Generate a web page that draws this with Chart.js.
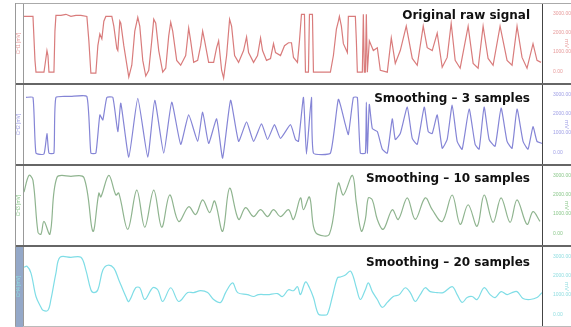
<!DOCTYPE html>
<html>
<head>
<meta charset="utf-8">
<script src="https://cdn.jsdelivr.net/npm/chart.js@4/dist/chart.umd.min.js"></script>
<style>
  html, body { margin: 0; padding: 0; background: #fff; }
  body { width: 571px; height: 327px; position: relative; overflow: hidden; }
  #wrap { position: absolute; left: 15px; top: 3px; width: 556px; height: 324px; border-left: 1px solid #999; border-bottom: 1px solid #bbb; box-sizing: border-box; }
  .panel { position: absolute; left: 0; width: 555px; }
  .panel canvas { position: absolute; left: 0; top: 0; }
  .strip { position: absolute; left: 0; top: 0; width: 7px; height: 100%; background: #94a8c8; }
  .ptitle { position: absolute; right: 41px; font: bold 12px "DejaVu Sans", sans-serif; color: #111; line-height: 14px; white-space: nowrap; }
</style>
</head>
<body>
<div id="wrap"></div>
<script>
// time axis in seconds, values in mV
const rawTime = [0.1, 1.0, 1.2, 1.3, 2.1, 2.2, 2.4, 2.5, 2.6, 3.1, 3.2, 3.3, 3.8, 4.3, 4.8, 5.3, 5.8, 6.4, 6.6, 6.8,
  7.3, 7.5, 7.7, 7.9, 8.1, 8.3, 8.9, 9.1, 9.4, 9.5, 9.7, 9.8, 10.1, 10.6, 10.9, 11.2, 11.5, 11.7, 12.0, 12.3,
  12.6, 12.9, 13.1, 13.3, 13.6, 14.0, 14.3, 14.6, 14.8, 15.0, 15.4, 15.8, 16.3, 16.6, 16.8, 17.1, 17.5, 17.8, 18.0, 18.2,
  18.6, 19.1, 19.4, 19.6, 19.9, 20.1, 20.4, 20.7, 20.9, 21.2, 21.6, 22.1, 22.4, 22.6, 23.1, 23.5, 23.8, 24.0, 24.4, 24.8,
  25.1, 25.3, 25.8, 26.2, 26.6, 26.9, 27.1, 27.5, 27.7, 27.9, 28.2, 28.3, 28.6, 28.7, 29.0, 29.1, 30.8, 31.1, 31.4, 31.6,
  31.7, 31.9, 32.1, 32.5, 32.6, 33.3, 33.4, 33.5, 34.0, 34.1, 34.2, 34.3, 34.4, 34.5, 34.7, 35.1, 35.5, 35.8, 36.5, 36.9,
  37.3, 37.8, 38.4, 39.0, 39.5, 40.1, 40.5, 41.0, 41.5, 42.0, 42.5, 42.9, 43.3, 43.8, 44.6, 45.1, 45.6, 46.1, 46.6, 47.1,
  47.8, 48.5, 49.0, 49.5, 50.0, 50.5, 51.1, 51.5, 51.9];
const rawValue = [2870, 2870, 565, -50, -50, 310, 1080, 820, -50, -50, 2100, 2920, 2920, 2980, 2870, 2920, 2920, 2870, 1590, -100,
  -100, 1335, 1950, 1690, 2620, 2870, 2870, 2360, 1180, 1080, 2620, 2510, 1335, -310, 310, 2100, 2820, 2360, 565, -255,
  50, 1590, 2720, 2510, 1080, -50, 155, 1850, 2565, 2100, 565, 310, 820, 2260, 1590, 460, 565, 1335, 2100, 1590,
  460, 460, 1230, 1590, 50, -360, 820, 2720, 2360, 820, 460, 1080, 1795, 975, 460, 820, 1745, 1080, 565, 665,
  1440, 975, 820, 1335, 1490, 1490, 720, 460, 1590, 2980, 2980, -50, -50, 2980, 2980, -50, -50, 820, 2205, 2620,
  2870, 2360, 1440, 975, 2870, 2870, 1590, -50, -50, 2980, -50, -50, 2980, -50, 1590, 1080, 1230, 50, -50, 1745,
  410, 1080, 2360, 665, 310, 2360, 1230, 1080, 2000, 205, 720, 2510, 565, 155, 2360, 410, 155, 2360, 665, 310,
  2360, 565, 310, 2360, 720, 155, 1440, 565, 460];

const smooth3Time = [0.3, 1.0, 1.3, 2.1, 2.4, 2.6, 3.1, 3.3, 4.8, 6.4, 6.8, 7.3, 7.7, 8.0, 8.4, 9.0, 9.5, 9.8, 10.6, 11.5,
  12.5, 13.2, 14.1, 14.9, 15.8, 16.6, 17.5, 18.0, 18.6, 19.4, 20.0, 20.8, 21.6, 22.4, 23.1, 23.9, 24.5, 25.2, 25.8, 26.8,
  27.3, 27.6, 28.1, 28.4, 28.9, 29.1, 30.8, 31.6, 32.3, 32.6, 33.1, 33.5, 33.8, 34.3, 34.4, 34.5, 34.7, 35.0, 35.5, 36.0,
  36.5, 37.0, 37.3, 37.8, 38.5, 39.0, 39.5, 40.2, 40.6, 41.0, 41.5, 42.0, 42.5, 43.0, 43.5, 44.0, 44.7, 45.3, 45.7, 46.2,
  46.7, 47.3, 47.9, 48.5, 49.0, 49.5, 50.1, 50.6, 51.1, 51.5, 52.0];
const smooth3Value = [2870, 2870, -50, -100, 975, -50, -50, 2870, 2920, 2920, -50, -50, 1950, 1690, 2870, 2870, 1080, 2565, -255, 2820,
  -255, 2720, -50, 2620, 410, 1950, 565, 2100, 460, 1745, -310, 2720, 565, 1590, 565, 1490, 665, 1440, 720, 1440,
  665, 565, 2870, -100, 2870, -50, -50, 2770, 1440, 925, 2870, 2870, -50, -50, 2620, -50, 2500, 1230, 1080, 155,
  -50, 1745, 665, 975, 2360, 720, 410, 2360, 1080, 975, 1950, 205, 665, 2460, 565, 155, 2260, 410, 155, 2360,
  665, 310, 2310, 565, 205, 2260, 565, 155, 1335, 565, 460];

const smooth10Time = [0.1, 0.6, 1.0, 1.5, 1.8, 2.1, 2.7, 3.4, 4.8, 6.1, 7.0, 7.6, 7.8, 8.6, 9.3, 9.6, 10.5, 11.4, 12.2, 13.1,
  13.9, 14.7, 15.6, 16.6, 17.3, 18.0, 18.7, 19.2, 20.0, 20.7, 21.6, 22.3, 23.1, 23.8, 24.5, 25.1, 25.8, 26.6, 27.1, 27.8,
  28.1, 28.7, 29.1, 29.5, 30.7, 31.6, 32.1, 33.0, 33.4, 33.9, 34.3, 34.6, 35.0, 35.5, 36.1, 37.0, 37.6, 38.5, 39.3, 40.3,
  41.0, 42.0, 43.0, 43.8, 44.6, 45.5, 46.2, 47.1, 47.9, 48.8, 49.5, 50.5, 51.1, 51.8];
const smooth10Value = [2155, 3030, 2770, 50, -50, 615, -50, 2920, 2980, 2920, 100, 2100, 1900, 3030, 2000, 2100, 205, 2260, 310, 2260,
  310, 2000, 615, 1385, 975, 1745, 1080, 1690, 100, 2360, 720, 1335, 870, 1230, 870, 1230, 870, 1230, 720, 1850,
  1230, 1900, 360, -50, -50, 2620, 2000, 3030, 1590, 100, 720, 1850, 1745, 720, 205, 1230, 720, 1850, 720, 1850,
  1230, 615, 2000, 460, 1490, 360, 2000, 565, 1850, 565, 1745, 460, 1130, 615];

const smooth20Time = [0.1, 0.4, 0.8, 1.3, 1.8, 2.0, 2.5, 2.8, 3.3, 3.7, 4.8, 5.8, 6.3, 6.8, 7.1, 7.5, 8.0, 8.5, 9.1, 9.6,
  10.3, 10.6, 11.3, 11.7, 12.2, 13.0, 13.5, 14.0, 14.8, 15.6, 16.5, 17.1, 17.8, 18.5, 19.1, 19.8, 20.3, 21.0, 21.5, 22.5,
  23.1, 23.6, 24.5, 25.5, 26.0, 26.6, 27.1, 27.5, 27.8, 28.3, 28.7, 29.1, 29.6, 30.1, 30.5, 31.0, 31.5, 31.8, 32.3, 32.8,
  33.1, 33.4, 33.8, 34.3, 34.6, 35.0, 35.5, 36.0, 36.5, 37.1, 37.7, 38.3, 38.8, 39.3, 39.8, 40.3, 40.8, 41.5, 42.1, 43.0,
  43.5, 44.0, 44.5, 45.0, 45.5, 46.2, 46.8, 47.3, 47.9, 48.5, 49.0, 49.5, 50.1, 50.8, 51.5, 52.0];
const smooth20Value = [2460, 2510, 2155, 925, 360, 205, 205, 770, 2155, 2980, 2980, 2980, 2310, 1280, 1130, 1280, 2310, 2565, 2410, 1795,
  925, 665, 1385, 1385, 770, 1385, 1280, 665, 1385, 665, 1130, 1130, 1230, 1130, 770, 615, 1130, 1640, 1130, 1025,
  925, 1025, 1025, 1080, 925, 1280, 1230, 1440, 1025, 1690, 1385, 870, 0, -50, 0, 925, 1900, 1950, 2050, 2260,
  1950, 1385, 770, 1280, 1640, 1180, 770, 360, 615, 925, 1025, 1385, 1130, 665, 1025, 1385, 1180, 1130, 1130, 1440,
  1025, 615, 870, 925, 770, 1385, 1025, 870, 1180, 1025, 1130, 1180, 820, 770, 870, 1130];

const tickValues = [0, 1000, 2000, 3000];
const panelTitles = ["Original raw signal", "Smoothing \u2013 3 samples", "Smoothing \u2013 10 samples", "Smoothing \u2013 20 samples"];

const panels = [
  { time: rawTime, value: rawValue, line: "#d97c7c", tick: "#e79a9a", tension: 0, top: 0, height: 80, titleTop: 4 },
  { time: smooth3Time, value: smooth3Value, line: "#8585d6", tick: "#a0a0e6", tension: 0.15, top: 80, height: 81, titleTop: 6 },
  { time: smooth10Time, value: smooth10Value, line: "#8fb48f", tick: "#8cc88c", tension: 0.35, top: 161, height: 81, titleTop: 5 },
  { time: smooth20Time, value: smooth20Value, line: "#7fdde6", tick: "#8fdde0", tension: 0.35, top: 242, height: 81, titleTop: 8 },
];

const wrap = document.getElementById("wrap");

panels.forEach((p, i) => {
  const div = document.createElement("div");
  div.className = "panel";
  div.style.top = p.top + "px";
  div.style.height = p.height + "px";
  if (i > 0) div.style.borderTop = "2px solid #666";
  else div.style.borderTop = "1px solid #aaa";
  wrap.appendChild(div);

  const h = p.height - (i > 0 ? 2 : 1);
  if (i === 3) {
    const strip = document.createElement("div");
    strip.className = "strip";
    div.appendChild(strip);
  }
  const canvas = document.createElement("canvas");
  canvas.width = 555;
  canvas.height = h;
  div.appendChild(canvas);

  const title = document.createElement("div");
  title.className = "ptitle";
  title.style.top = p.titleTop + "px";
  title.innerText = panelTitles[i];
  div.appendChild(title);

  new Chart(canvas, {
    type: "line",
    data: {
      datasets: [{
        data: p.time.map((t, k) => ({ x: t, y: p.value[k] })),
        borderColor: p.line,
        borderWidth: 1.2,
        pointRadius: 0,
        tension: p.tension,
        fill: false,
      }],
    },
    options: {
      responsive: false,
      animation: false,
      devicePixelRatio: 1,
      layout: { padding: 0 },
      plugins: { legend: { display: false }, tooltip: { enabled: false } },
      scales: {
        x: { type: "linear", min: 0, max: 52, display: false },
        yLeft: {
          position: "left",
          min: -620,
          max: 3520,
          grid: { display: false },
          border: { display: true, color: "#999" },
          ticks: { display: false },
          title: { display: true, text: "CH" + (i + 1) + " [mV]", color: p.tick, font: { size: 5 }, padding: 0 },
          afterFit: (axis) => { axis.width = 7; axis.paddingTop = 0; axis.paddingBottom = 0; },
        },
        y: {
          position: "right",
          min: -620,
          max: 3520,
          grid: { display: false },
          border: { display: true, color: "#444" },
          afterBuildTicks: (axis) => { axis.ticks = tickValues.map((v) => ({ value: v })); },
          ticks: { color: p.tick, font: { size: 5 }, padding: 3, callback: (v) => v.toFixed(2) },
          title: { display: true, text: "mV", color: p.tick, font: { size: 6 }, padding: 1 },
          afterFit: (axis) => { axis.width = 29; axis.paddingTop = 0; axis.paddingBottom = 0; },
        },
      },
    },
  });
});
</script>
</body>
</html>
